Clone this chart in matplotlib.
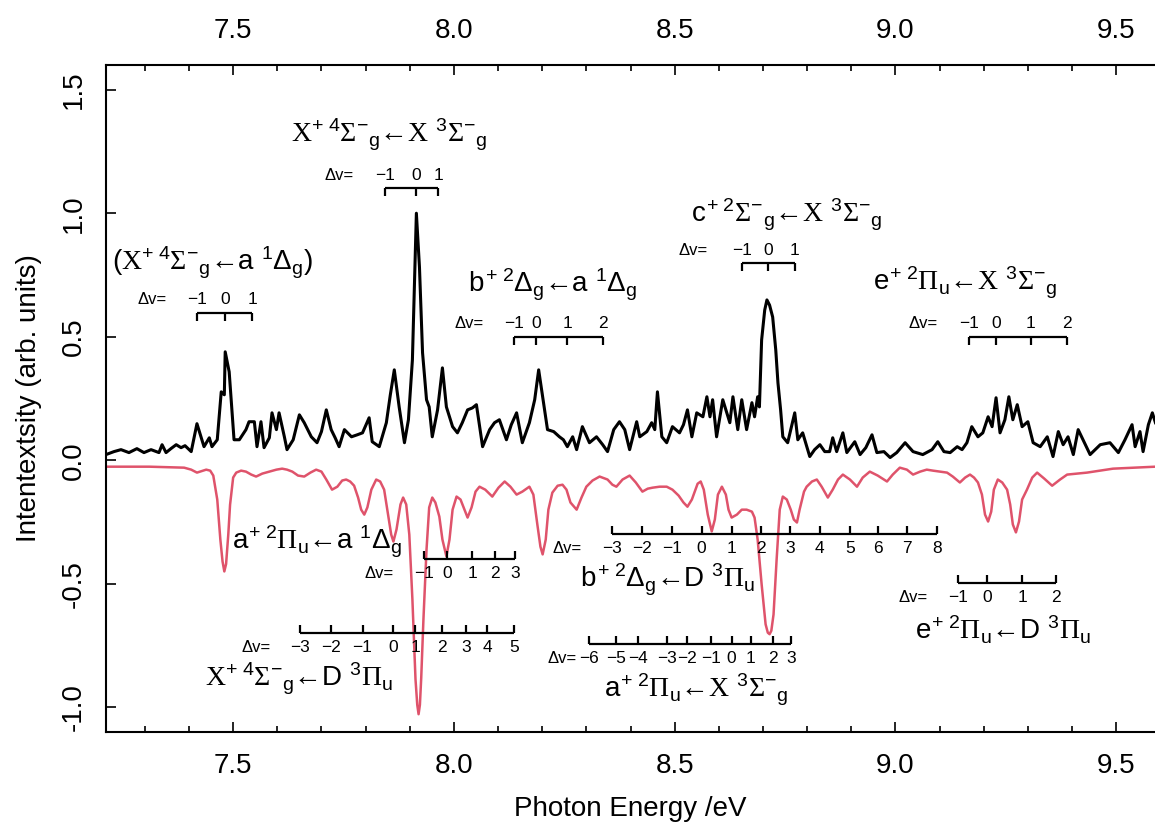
import matplotlib
matplotlib.use("Agg")
import matplotlib.pyplot as plt
from matplotlib.ticker import MultipleLocator, FormatStrFormatter

plt.rcParams['font.family'] = 'Liberation Sans'
plt.rcParams['mathtext.fontset'] = 'custom'
plt.rcParams['mathtext.rm'] = 'Liberation Sans'
plt.rcParams['mathtext.it'] = 'Liberation Sans'
plt.rcParams['mathtext.bf'] = 'Liberation Serif'   # used for the serif symbol glyphs X, Sigma, Pi

# === measured spectrum (black) ===
obs_energy = [
    7.212, 7.230, 7.246, 7.264, 7.282, 7.298, 7.314, 7.332, 7.339, 7.348,
    7.359, 7.371, 7.382, 7.391, 7.405, 7.418, 7.434, 7.446, 7.452, 7.464,
    7.473, 7.480, 7.482, 7.491, 7.502, 7.514, 7.529, 7.536, 7.548, 7.554,
    7.563, 7.570, 7.582, 7.588, 7.598, 7.604, 7.616, 7.622, 7.636, 7.650,
    7.661, 7.677, 7.690, 7.700, 7.711, 7.722, 7.731, 7.740, 7.752, 7.768,
    7.781, 7.793, 7.808, 7.815, 7.831, 7.847, 7.856, 7.865, 7.876, 7.888,
    7.897, 7.906, 7.915, 7.922, 7.929, 7.938, 7.944, 7.951, 7.963, 7.974,
    7.983, 7.997, 8.008, 8.019, 8.031, 8.042, 8.051, 8.065, 8.081, 8.092,
    8.103, 8.119, 8.130, 8.142, 8.155, 8.171, 8.183, 8.192, 8.201, 8.212,
    8.226, 8.239, 8.248, 8.257, 8.269, 8.278, 8.291, 8.307, 8.323, 8.337,
    8.348, 8.362, 8.375, 8.387, 8.398, 8.414, 8.421, 8.437, 8.448, 8.455,
    8.461, 8.471, 8.482, 8.495, 8.511, 8.520, 8.529, 8.539, 8.550, 8.564,
    8.573, 8.580, 8.586, 8.595, 8.609, 8.625, 8.632, 8.643, 8.652, 8.663,
    8.675, 8.681, 8.688, 8.692, 8.697, 8.704, 8.709, 8.715, 8.722, 8.729,
    8.734, 8.740, 8.745, 8.756, 8.772, 8.779, 8.790, 8.806, 8.817, 8.829,
    8.840, 8.851, 8.858, 8.867, 8.881, 8.890, 8.908, 8.920, 8.933, 8.947,
    8.958, 8.974, 8.988, 9.003, 9.022, 9.040, 9.062, 9.083, 9.096, 9.110,
    9.124, 9.140, 9.151, 9.162, 9.173, 9.187, 9.198, 9.210, 9.219, 9.228,
    9.237, 9.248, 9.257, 9.266, 9.276, 9.287, 9.300, 9.312, 9.328, 9.344,
    9.357, 9.369, 9.380, 9.391, 9.403, 9.414, 9.425, 9.441, 9.464, 9.486,
    9.505, 9.520, 9.536, 9.543, 9.554, 9.561, 9.573, 9.582, 9.589,
]
obs_intensity = [
    0.023, 0.035, 0.043, 0.031, 0.047, 0.031, 0.043, 0.031, 0.063, 0.031,
    0.047, 0.063, 0.051, 0.059, 0.035, 0.148, 0.055, 0.091, 0.055, 0.083,
    0.277, 0.265, 0.439, 0.358, 0.083, 0.083, 0.124, 0.156, 0.156, 0.055,
    0.156, 0.051, 0.091, 0.192, 0.124, 0.192, 0.095, 0.043, 0.083, 0.184,
    0.152, 0.095, 0.071, 0.116, 0.204, 0.124, 0.091, 0.055, 0.124, 0.095,
    0.103, 0.111, 0.172, 0.075, 0.055, 0.152, 0.265, 0.366, 0.216, 0.071,
    0.164, 0.406, 1.000, 0.782, 0.435, 0.245, 0.216, 0.095, 0.204, 0.374,
    0.216, 0.136, 0.111, 0.152, 0.204, 0.212, 0.225, 0.055, 0.124, 0.152,
    0.164, 0.083, 0.144, 0.192, 0.071, 0.152, 0.245, 0.366, 0.257, 0.124,
    0.116, 0.095, 0.083, 0.055, 0.095, 0.043, 0.136, 0.071, 0.095, 0.063,
    0.035, 0.124, 0.156, 0.124, 0.043, 0.156, 0.095, 0.116, 0.152, 0.124,
    0.277, 0.095, 0.071, 0.136, 0.111, 0.144, 0.204, 0.095, 0.192, 0.176,
    0.257, 0.176, 0.245, 0.095, 0.245, 0.152, 0.257, 0.124, 0.245, 0.124,
    0.233, 0.176, 0.257, 0.216, 0.487, 0.608, 0.649, 0.628, 0.580, 0.447,
    0.313, 0.204, 0.095, 0.071, 0.192, 0.083, 0.111, 0.015, 0.043, 0.063,
    0.035, 0.035, 0.091, 0.035, 0.111, 0.031, 0.075, 0.023, 0.051, 0.103,
    0.031, 0.035, 0.011, 0.031, 0.071, 0.035, 0.023, 0.043, 0.075, 0.035,
    0.031, 0.055, 0.043, 0.071, 0.136, 0.095, 0.111, 0.176, 0.136, 0.253,
    0.111, 0.164, 0.257, 0.164, 0.225, 0.136, 0.156, 0.071, 0.055, 0.095,
    0.015, 0.116, 0.063, 0.095, 0.023, 0.124, 0.083, 0.023, 0.063, 0.071,
    0.031, 0.083, 0.144, 0.055, 0.116, 0.035, 0.144, 0.192, 0.152,
]

# === simulated spectrum (red, plotted negative) ===
sim_energy = [
    7.210, 7.310, 7.389, 7.405, 7.418, 7.432, 7.439, 7.448, 7.455, 7.464,
    7.471, 7.476, 7.480, 7.484, 7.489, 7.493, 7.500, 7.507, 7.518, 7.529,
    7.541, 7.552, 7.566, 7.582, 7.598, 7.611, 7.622, 7.634, 7.647, 7.661,
    7.675, 7.688, 7.700, 7.711, 7.724, 7.736, 7.747, 7.756, 7.765, 7.774,
    7.783, 7.790, 7.797, 7.804, 7.813, 7.824, 7.833, 7.842, 7.851, 7.858,
    7.863, 7.870, 7.879, 7.885, 7.892, 7.899, 7.906, 7.913, 7.917, 7.920,
    7.923, 7.926, 7.931, 7.938, 7.944, 7.951, 7.958, 7.967, 7.974, 7.983,
    7.990, 7.997, 8.006, 8.015, 8.024, 8.031, 8.040, 8.049, 8.058, 8.071,
    8.087, 8.101, 8.115, 8.128, 8.142, 8.155, 8.171, 8.180, 8.189, 8.196,
    8.201, 8.208, 8.214, 8.223, 8.235, 8.246, 8.255, 8.264, 8.278, 8.289,
    8.300, 8.314, 8.330, 8.348, 8.359, 8.368, 8.382, 8.398, 8.412, 8.427,
    8.439, 8.450, 8.466, 8.482, 8.495, 8.509, 8.520, 8.529, 8.539, 8.552,
    8.559, 8.566, 8.575, 8.584, 8.591, 8.598, 8.607, 8.616, 8.622, 8.629,
    8.641, 8.652, 8.663, 8.675, 8.681, 8.688, 8.697, 8.706, 8.711, 8.715,
    8.719, 8.724, 8.731, 8.738, 8.745, 8.754, 8.763, 8.770, 8.777, 8.783,
    8.793, 8.799, 8.811, 8.822, 8.833, 8.847, 8.858, 8.870, 8.881, 8.897,
    8.913, 8.926, 8.942, 8.960, 8.981, 8.994, 9.010, 9.026, 9.040, 9.056,
    9.071, 9.085, 9.101, 9.117, 9.130, 9.146, 9.158, 9.169, 9.178, 9.187,
    9.196, 9.203, 9.210, 9.217, 9.223, 9.232, 9.242, 9.253, 9.260, 9.266,
    9.273, 9.280, 9.287, 9.298, 9.310, 9.321, 9.337, 9.355, 9.373, 9.389,
    9.412, 9.434, 9.464, 9.493, 9.539, 9.589,
]
sim_intensity = [
    -0.026, -0.026, -0.030, -0.038, -0.050, -0.042, -0.038, -0.042, -0.062, -0.159,
    -0.321, -0.410, -0.450, -0.420, -0.300, -0.180, -0.070, -0.050, -0.042, -0.046,
    -0.058, -0.066, -0.054, -0.046, -0.038, -0.034, -0.038, -0.046, -0.062, -0.066,
    -0.050, -0.038, -0.046, -0.078, -0.119, -0.107, -0.082, -0.078, -0.086, -0.103,
    -0.151, -0.200, -0.220, -0.191, -0.119, -0.078, -0.086, -0.119, -0.220, -0.301,
    -0.329, -0.280, -0.179, -0.151, -0.179, -0.301, -0.563, -0.886, -0.990, -1.028,
    -0.990, -0.880, -0.644, -0.361, -0.191, -0.151, -0.171, -0.228, -0.321, -0.389,
    -0.321, -0.200, -0.147, -0.159, -0.200, -0.232, -0.191, -0.127, -0.107, -0.119,
    -0.147, -0.111, -0.086, -0.107, -0.139, -0.127, -0.107, -0.139, -0.260, -0.350,
    -0.381, -0.321, -0.200, -0.131, -0.103, -0.099, -0.119, -0.171, -0.200, -0.151,
    -0.107, -0.082, -0.066, -0.078, -0.099, -0.107, -0.078, -0.062, -0.090, -0.127,
    -0.115, -0.111, -0.107, -0.107, -0.119, -0.143, -0.171, -0.188, -0.159, -0.095,
    -0.086, -0.119, -0.220, -0.288, -0.240, -0.139, -0.107, -0.139, -0.200, -0.232,
    -0.220, -0.200, -0.200, -0.208, -0.232, -0.321, -0.502, -0.664, -0.698, -0.704,
    -0.690, -0.624, -0.401, -0.200, -0.147, -0.159, -0.200, -0.240, -0.252, -0.200,
    -0.127, -0.107, -0.086, -0.078, -0.107, -0.151, -0.119, -0.078, -0.058, -0.078,
    -0.107, -0.070, -0.046, -0.062, -0.086, -0.058, -0.030, -0.038, -0.058, -0.046,
    -0.038, -0.042, -0.046, -0.050, -0.066, -0.090, -0.070, -0.058, -0.070, -0.090,
    -0.139, -0.220, -0.248, -0.208, -0.119, -0.078, -0.090, -0.119, -0.179, -0.260,
    -0.292, -0.248, -0.159, -0.119, -0.070, -0.050, -0.074, -0.103, -0.078, -0.058,
    -0.054, -0.050, -0.042, -0.034, -0.030, -0.026,
]

# === band assignments ===
band_names = [
    r'$(\mathbf{X}^{+\ 4}\mathbf{\Sigma}^{-}{}_{g}$←$a\ {}^{1}\Delta_{g})$',
    r'$\mathbf{X}^{+\ 4}\mathbf{\Sigma}^{-}{}_{g}$←$\mathbf{X}\ {}^{3}\mathbf{\Sigma}^{-}{}_{g}$',
    r'$b^{+\ 2}\Delta_{g}$←$a\ {}^{1}\Delta_{g}$',
    r'$c^{+\ 2}\mathbf{\Sigma}^{-}{}_{g}$←$\mathbf{X}\ {}^{3}\mathbf{\Sigma}^{-}{}_{g}$',
    r'$e^{+\ 2}\mathbf{\Pi}_{u}$←$\mathbf{X}\ {}^{3}\mathbf{\Sigma}^{-}{}_{g}$',
    r'$a^{+\ 2}\mathbf{\Pi}_{u}$←$a\ {}^{1}\Delta_{g}$',
    r'$\mathbf{X}^{+\ 4}\mathbf{\Sigma}^{-}{}_{g}$←$D\ {}^{3}\mathbf{\Pi}_{u}$',
    r'$b^{+\ 2}\Delta_{g}$←$D\ {}^{3}\mathbf{\Pi}_{u}$',
    r'$a^{+\ 2}\mathbf{\Pi}_{u}$←$\mathbf{X}\ {}^{3}\mathbf{\Sigma}^{-}{}_{g}$',
    r'$e^{+\ 2}\mathbf{\Pi}_{u}$←$D\ {}^{3}\mathbf{\Pi}_{u}$',
]
name_x = [7.452, 7.854, 8.223, 8.754, 9.158, 7.690, 7.650, 8.484, 8.548, 9.244]
name_y = [0.770, 1.286, 0.680, 0.963, 0.688, -0.361, -0.915, -0.515, -0.959, -0.725]

# vibrational progressions: tick energies, labels, bar level, Δv= position
prog_energy = [
    [7.418, 7.482, 7.543],
    [7.845, 7.915, 7.965],
    [8.137, 8.187, 8.257, 8.337],
    [8.652, 8.711, 8.772],
    [9.167, 9.228, 9.307, 9.389],
    [7.933, 7.985, 8.042, 8.092, 8.139],
    [7.652, 7.722, 7.793, 7.863, 7.913, 7.974, 8.028, 8.076, 8.137],
    [8.359, 8.425, 8.495, 8.561, 8.629, 8.695, 8.761, 8.829, 8.897, 8.960, 9.026, 9.094],
    [8.307, 8.368, 8.418, 8.482, 8.529, 8.582, 8.629, 8.672, 8.722, 8.763],
    [9.142, 9.207, 9.287, 9.364],
]
prog_dv = [
    [-1, 0, 1],
    [-1, 0, 1],
    [-1, 0, 1, 2],
    [-1, 0, 1],
    [-1, 0, 1, 2],
    [-1, 0, 1, 2, 3],
    [-3, -2, -1, 0, 1, 2, 3, 4, 5],
    [-3, -2, -1, 0, 1, 2, 3, 4, 5, 6, 7, 8],
    [-6, -5, -4, -3, -2, -1, 0, 1, 2, 3],
    [-1, 0, 1, 2],
]
prog_level = [0.596, 1.101, 0.499, 0.798, 0.499, -0.401, -0.700, -0.300, -0.745, -0.498]
prog_above = [True, True, True, True, True, False, False, False, False, False]
dv_x = [7.316, 7.740, 8.035, 8.541, 9.062, 7.831, 7.552, 8.257, 8.246, 9.040]

RED = '#DF536B'

fig = plt.figure(figsize=(11.55, 8.25), dpi=100)
ax = fig.add_axes([106 / 1155, 1 - 732 / 825, 1 - 106 / 1155, 667 / 825])

ax.plot(obs_energy, obs_intensity, color='black', lw=2.2, solid_joinstyle='round')
ax.plot(sim_energy, sim_intensity, color=RED, lw=1.8, solid_joinstyle='round')

for name, x, y in zip(band_names, name_x, name_y):
    ax.text(x, y, name, fontsize=20, ha='center', va='baseline')

tick_h = 0.032
for pos, dv, lev, above, dx in zip(prog_energy, prog_dv, prog_level, prog_above, dv_x):
    ax.plot([pos[0], pos[-1]], [lev, lev], color='black', lw=1.6, solid_capstyle='butt')
    sgn = -1 if above else 1
    ax.vlines(pos, lev, lev + sgn * tick_h, color='black', lw=1.6)
    off = 4 if above else -5
    va = 'bottom' if above else 'top'
    for x, d in zip(pos, dv):
        ax.annotate(str(d).replace('-', '\u2212'), (x, lev), xytext=(0, off),
                    textcoords='offset points', ha='center', va=va, fontsize=12.5)
    ax.annotate('\u0394v=', (dx, lev), xytext=(0, off), textcoords='offset points',
                ha='center', va=va, fontsize=12)

ax.set_xlim(7.212, 9.588)
ax.set_ylim(-1.1, 1.6)
ax.xaxis.set_major_locator(MultipleLocator(0.5))
ax.xaxis.set_minor_locator(MultipleLocator(0.1))
ax.xaxis.set_major_formatter(FormatStrFormatter('%.1f'))
ax.yaxis.set_major_locator(MultipleLocator(0.5))
ax.yaxis.set_major_formatter(FormatStrFormatter('%.1f'))

ax.tick_params(axis='x', which='both', direction='in', top=True, labeltop=True,
               labelsize=20, pad=15)
ax.tick_params(axis='x', which='major', length=7, width=1.2)
ax.tick_params(axis='x', which='minor', length=4, width=1.2)
ax.tick_params(axis='y', direction='in', length=7, width=1.2, labelsize=20, pad=14)
for lab in ax.get_yticklabels():
    lab.set_rotation(90)
    lab.set_va('center')

ax.spines['right'].set_visible(False)
for s in ['left', 'top', 'bottom']:
    ax.spines[s].set_linewidth(1.5)

ax.set_xlabel('Photon Energy /eV', fontsize=20, labelpad=12)
ax.set_ylabel('Intentextsity (arb. units)', fontsize=20, labelpad=13)

fig.savefig('out.png', dpi=100)
